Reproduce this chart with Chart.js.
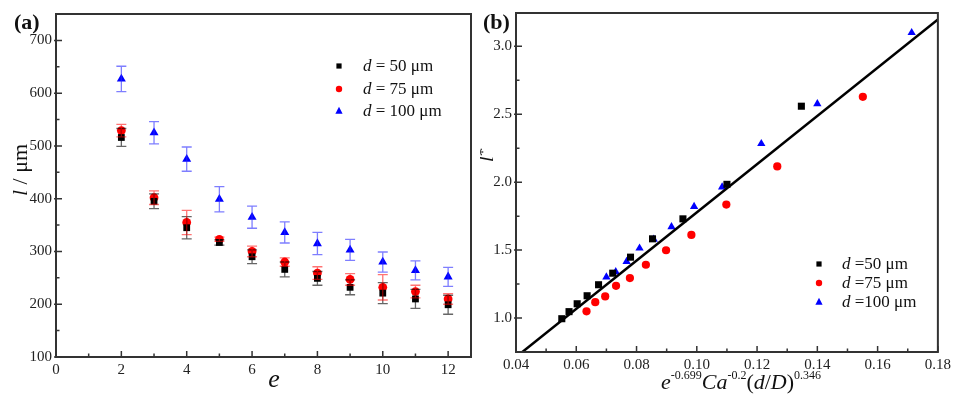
<!DOCTYPE html>
<html>
<head>
<meta charset="utf-8">
<script src="https://cdn.jsdelivr.net/npm/chart.js@4.4.0/dist/chart.umd.min.js"></script>
<style>
body { margin: 0; background: #fff; width: 955px; height: 397px; position: relative; overflow: hidden; }
#wrapA { position: absolute; left: 0; top: 0; width: 480px; height: 397px; }
#wrapB { position: absolute; left: 480px; top: 0; width: 475px; height: 397px; }
</style>
</head>
<body>
<div id="wrapA"><canvas id="chartA" width="480" height="397"></canvas></div>
<div id="wrapB"><canvas id="chartB" width="475" height="397"></canvas></div>
<script>
// panel (a): l vs e, three tube diameters
var eValues = [2, 3, 4, 5, 6, 7, 8, 9, 10, 11, 12];
var l50 = [516, 395, 345, 317, 290, 266, 249, 232, 221, 210, 199];
var l50Err = [17, 14, 21, 5, 13, 14, 13, 14, 20, 18, 18];
var l75 = [529, 402, 355, 323, 300, 280, 259, 247, 232, 224, 210];
var l75Err = [12, 13, 23, 4, 10, 8, 12, 11, 24, 12, 10];
var l100 = [627, 525, 475, 399, 365, 336, 315, 303, 280, 264, 252];
var l100Err = [24, 21, 23, 24, 21, 20, 21, 20, 19, 18, 18];

// panel (b): scaled length vs correlation
var x50 = [0.0552, 0.0576, 0.0603, 0.0636, 0.0674, 0.0721, 0.0780, 0.0853, 0.0954, 0.1100, 0.1347];
var y50 = [0.995, 1.047, 1.105, 1.164, 1.245, 1.330, 1.448, 1.583, 1.730, 1.984, 2.559];
var x75 = [0.0634, 0.0663, 0.0696, 0.0732, 0.0778, 0.0831, 0.0898, 0.0982, 0.1098, 0.1267, 0.1551];
var y75 = [1.049, 1.117, 1.159, 1.237, 1.294, 1.392, 1.499, 1.612, 1.835, 2.116, 2.628];
var x100 = [0.0700, 0.0731, 0.0767, 0.0810, 0.0857, 0.0916, 0.0991, 0.1084, 0.1214, 0.1400, 0.1713];
var y100 = [1.301, 1.340, 1.416, 1.514, 1.580, 1.671, 1.820, 1.964, 2.283, 2.576, 3.100];
var fitX = [0.0421, 0.18];
var fitY = [0.75, 3.198];

// tick labels
var xTicksA = [0, 2, 4, 6, 8, 10, 12];
var yTicksA = [100, 200, 300, 400, 500, 600, 700];
var xTicksB = [0.04, 0.06, 0.08, 0.10, 0.12, 0.14, 0.16, 0.18];
var yTicksB = [1.0, 1.5, 2.0, 2.5, 3.0];

var SERIF = '"Liberation Serif", "Times New Roman", serif';
var FRAME = '#333';

function pts(xs, ys) {
    return xs.map(function (x, i) { return { x: x, y: ys[i] }; });
}

function series(label, data, color, style, r) {
    return {
        label: label,
        data: data,
        pointStyle: style,
        pointRadius: r,
        pointHoverRadius: r,
        backgroundColor: color,
        borderColor: color,
        borderWidth: 0,
        showLine: false
    };
}

function drawRich(ctx, parts, x, y, align) {
    var w = 0;
    parts.forEach(function (p) { ctx.font = p[1]; w += ctx.measureText(p[0]).width; });
    var cx = align === 'center' ? x - w / 2 : x;
    ctx.textAlign = 'left';
    parts.forEach(function (p) {
        ctx.font = p[1];
        ctx.fillText(p[0], cx, y + (p[2] || 0));
        cx += ctx.measureText(p[0]).width;
    });
}

function marker(ctx, style, x, y, r, color) {
    ctx.fillStyle = color;
    ctx.beginPath();
    if (style === 'rect') {
        ctx.rect(x - r, y - r, 2 * r, 2 * r);
    } else if (style === 'circle') {
        ctx.arc(x, y, r, 0, Math.PI * 2);
    } else {
        ctx.moveTo(x, y - r * 1.15);
        ctx.lineTo(x + r, y + r * 0.75);
        ctx.lineTo(x - r, y + r * 0.75);
        ctx.closePath();
    }
    ctx.fill();
}

function midpoints(arr) {
    var out = [];
    for (var i = 0; i < arr.length - 1; i++) out.push((arr[i] + arr[i + 1]) / 2);
    return out;
}

function decoPlugin(cfg) {
    return {
        id: 'deco',
        afterDatasetsDraw: function (chart) {
            var ctx = chart.ctx, xs = chart.scales.x, ys = chart.scales.y, a = chart.chartArea;
            ctx.save();
            // error bars
            (cfg.errors || []).forEach(function (eb) {
                ctx.strokeStyle = eb.color;
                ctx.lineWidth = 1.3;
                eb.x.forEach(function (xv, i) {
                    var px = xs.getPixelForValue(xv);
                    var top = ys.getPixelForValue(eb.y[i] + eb.err[i]);
                    var bot = ys.getPixelForValue(eb.y[i] - eb.err[i]);
                    ctx.beginPath();
                    ctx.moveTo(px, top); ctx.lineTo(px, bot);
                    ctx.moveTo(px - 5, top); ctx.lineTo(px + 5, top);
                    ctx.moveTo(px - 5, bot); ctx.lineTo(px + 5, bot);
                    ctx.stroke();
                });
            });
            // frame
            ctx.strokeStyle = FRAME;
            ctx.lineWidth = 2;
            ctx.strokeRect(a.left, a.top, a.right - a.left, a.bottom - a.top);
            // inward ticks
            ctx.lineWidth = 1.5;
            ctx.beginPath();
            cfg.xMajor.forEach(function (v) {
                var p = xs.getPixelForValue(v);
                ctx.moveTo(p, a.bottom); ctx.lineTo(p, a.bottom - 6);
            });
            midpoints(cfg.xMajor).forEach(function (v) {
                var p = xs.getPixelForValue(v);
                ctx.moveTo(p, a.bottom); ctx.lineTo(p, a.bottom - 3.5);
            });
            cfg.yMajor.forEach(function (v) {
                var p = ys.getPixelForValue(v);
                ctx.moveTo(a.left - 2, p); ctx.lineTo(a.left + 6, p);
            });
            midpoints(cfg.yMajor).forEach(function (v) {
                var p = ys.getPixelForValue(v);
                ctx.moveTo(a.left, p); ctx.lineTo(a.left + 3.5, p);
            });
            ctx.stroke();

            // legend
            ctx.textBaseline = 'middle';
            cfg.legend.forEach(function (it, i) {
                var y = cfg.legendY[i];
                marker(ctx, it.style, cfg.legendMarkerX, y, it.r, it.color);
                ctx.fillStyle = '#111';
                drawRich(ctx, [['d', 'italic 17px ' + SERIF], [it.text, '17px ' + SERIF]], cfg.legendTextX, y + 1, 'left');
            });

            // titles
            ctx.fillStyle = '#111';
            ctx.textBaseline = 'alphabetic';
            drawRich(ctx, cfg.xTitle, cfg.xTitlePos[0], cfg.xTitlePos[1], 'center');
            ctx.save();
            ctx.translate(cfg.yTitlePos[0], cfg.yTitlePos[1]);
            ctx.rotate(-Math.PI / 2);
            drawRich(ctx, cfg.yTitle, 0, 0, 'center');
            ctx.restore();
            ctx.font = 'bold 22px ' + SERIF;
            ctx.textAlign = 'left';
            ctx.fillText(cfg.panel, cfg.panelPos[0], cfg.panelPos[1]);
            ctx.restore();
        }
    };
}

function axisOpts(min, max, ticksArr, fmt, fit) {
    return {
        type: 'linear',
        min: min,
        max: max,
        afterBuildTicks: function (s) { s.ticks = ticksArr.map(function (v) { return { value: v }; }); },
        afterFit: fit,
        grid: { display: false, drawTicks: false },
        border: { display: false },
        ticks: {
            padding: 4,
            color: '#222',
            maxRotation: 0,
            autoSkip: false,
            font: { family: SERIF, size: 15 },
            callback: fmt
        }
    };
}

// chart (a)
new Chart(document.getElementById('chartA').getContext('2d'), {
    type: 'scatter',
    data: {
        datasets: [
            series('d = 50 μm', pts(eValues, l50), '#000', 'rect', 4.8),
            series('d = 75 μm', pts(eValues, l75), '#ff0000', 'circle', 4.4),
            series('d = 100 μm', pts(eValues, l100), '#0000ff', 'triangle', 5.2)
        ]
    },
    options: {
        responsive: false,
        animation: false,
        layout: { padding: { top: 14, right: 9, left: 0, bottom: 0 } },
        plugins: { legend: { display: false }, tooltip: { enabled: false } },
        scales: {
            x: axisOpts(0, 12.7, xTicksA, function (v) { return String(v); }, function (s) { s.height = 40; }),
            y: axisOpts(100, 750, yTicksA, function (v) { return String(v); }, function (s) { s.width = 56; })
        }
    },
    plugins: [decoPlugin({
        errors: [
            { x: eValues, y: l50, err: l50Err, color: 'rgba(0,0,0,0.6)' },
            { x: eValues, y: l75, err: l75Err, color: 'rgba(255,0,0,0.55)' },
            { x: eValues, y: l100, err: l100Err, color: 'rgba(40,40,255,0.6)' }
        ],
        xMajor: xTicksA,
        yMajor: yTicksA,
        legend: [
            { style: 'rect', r: 2.6, color: '#000', text: ' = 50 μm' },
            { style: 'circle', r: 3.2, color: '#ff0000', text: ' = 75 μm' },
            { style: 'tri', r: 3.6, color: '#0000ff', text: ' = 100 μm' }
        ],
        legendMarkerX: 339,
        legendTextX: 363,
        legendY: [66, 89, 111],
        xTitle: [['e', 'italic 26px ' + SERIF]],
        xTitlePos: [274, 387],
        yTitle: [['l', 'italic 22px ' + SERIF], [' / μm', '22px ' + SERIF]],
        yTitlePos: [27, 170],
        panel: '(a)',
        panelPos: [14, 29]
    })]
});

// chart (b)
var lineDs = {
    label: 'fit',
    data: pts(fitX, fitY),
    showLine: true,
    borderColor: '#000',
    borderWidth: 2.5,
    pointRadius: 0,
    fill: false
};
new Chart(document.getElementById('chartB').getContext('2d'), {
    type: 'scatter',
    data: {
        datasets: [
            lineDs,
            series('d =50 μm', pts(x50, y50), '#000', 'rect', 5),
            series('d =75 μm', pts(x75, y75), '#ff0000', 'circle', 4.1),
            series('d =100 μm', pts(x100, y100), '#0000ff', 'triangle', 4.8)
        ]
    },
    options: {
        responsive: false,
        animation: false,
        layout: { padding: { top: 13, right: 16, left: 0, bottom: 0 } },
        plugins: { legend: { display: false }, tooltip: { enabled: false } },
        scales: {
            x: axisOpts(0.04, 0.18, xTicksB, function (v) { return v.toFixed(2); }, function (s) { s.height = 45; }),
            y: axisOpts(0.75, 3.245, yTicksB, function (v) { return v.toFixed(1); }, function (s) { s.width = 36; })
        }
    },
    plugins: [decoPlugin({
        errors: [],
        xMajor: xTicksB,
        yMajor: yTicksB,
        legend: [
            { style: 'rect', r: 2.6, color: '#000', text: ' =50 μm' },
            { style: 'circle', r: 3.2, color: '#ff0000', text: ' =75 μm' },
            { style: 'tri', r: 3.6, color: '#0000ff', text: ' =100 μm' }
        ],
        legendMarkerX: 339,
        legendTextX: 362,
        legendY: [264, 283, 302],
        xTitle: [
            ['e', 'italic 22px ' + SERIF], ['-0.699', '12px ' + SERIF, -10],
            ['Ca', 'italic 22px ' + SERIF], ['-0.2', '12px ' + SERIF, -10],
            ['(', '22px ' + SERIF], ['d', 'italic 22px ' + SERIF], ['/', '22px ' + SERIF],
            ['D', 'italic 22px ' + SERIF], [')', '22px ' + SERIF], ['0.346', '12px ' + SERIF, -10]
        ],
        xTitlePos: [261, 389],
        yTitle: [['l', 'italic 22px ' + SERIF], ['*', '17px ' + SERIF, -5]],
        yTitlePos: [13, 155],
        panel: '(b)',
        panelPos: [3, 29]
    })]
});
</script>
</body>
</html>
